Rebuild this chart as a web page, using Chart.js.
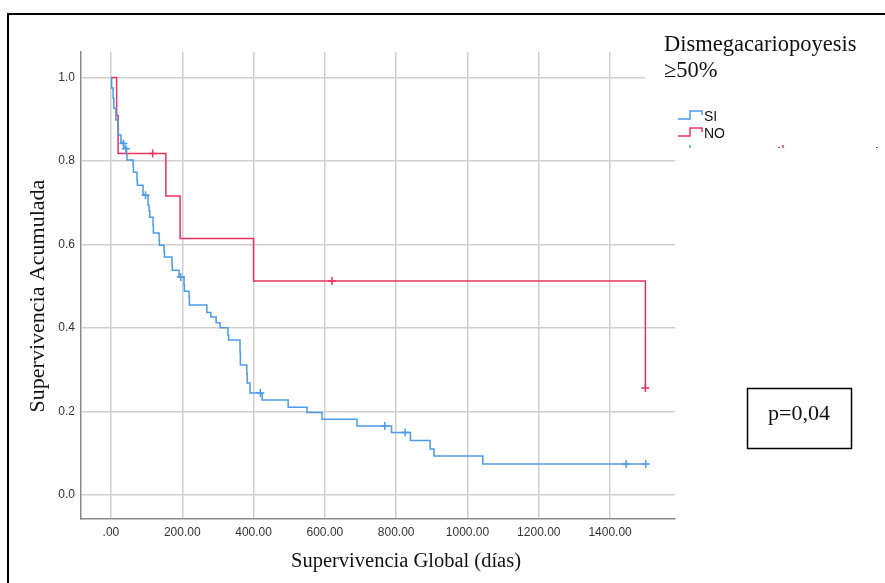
<!DOCTYPE html>
<html>
<head>
<meta charset="utf-8">
<script src="https://cdn.jsdelivr.net/npm/chart.js@4.4.1/dist/chart.umd.min.js"></script>
<style>
  html, body { margin: 0; padding: 0; background: #fff; }
  #km { display: block; }
</style>
</head>
<body>
<canvas id="km" width="885" height="583"></canvas>
<script>
// Kaplan-Meier steps: time (days) and survival after the event
const siTimes = [0, 2, 6, 8, 14, 20, 21, 28, 36, 44, 45, 62, 63, 73, 74, 90, 104, 107, 109, 118, 119, 135, 136, 149, 150, 171, 172, 191, 205, 206, 219, 220, 269, 280, 295, 306, 328, 330, 362, 363, 381, 382, 390, 424, 497, 550, 592, 690, 787, 840, 895, 906, 1043, 1500];
const siSurv  = [1.0, 0.975, 0.950, 0.926, 0.898, 0.879, 0.862, 0.845, 0.831, 0.816, 0.802, 0.787, 0.773, 0.754, 0.742, 0.718, 0.694, 0.680, 0.665, 0.646, 0.627, 0.610, 0.598, 0.584, 0.570, 0.553, 0.538, 0.522, 0.503, 0.488, 0.474, 0.455, 0.437, 0.426, 0.412, 0.400, 0.383, 0.371, 0.342, 0.311, 0.290, 0.268, 0.244, 0.227, 0.210, 0.197, 0.181, 0.165, 0.149, 0.130, 0.110, 0.093, 0.074, 0.074];
const siCensTimes = [35, 42, 97, 196, 419, 768, 825, 1445, 1500];
const siCensSurv  = [0.842, 0.829, 0.718, 0.522, 0.244, 0.165, 0.149, 0.074, 0.074];

const noTimes = [0, 16, 20, 154, 194, 400, 1499];
const noSurv  = [1.0, 0.909, 0.818, 0.716, 0.614, 0.512, 0.256];
const noCensTimes = [117, 620, 1499];
const noCensSurv  = [0.818, 0.512, 0.256];

const xTicks = [0, 200, 400, 600, 800, 1000, 1200, 1400];
const xTickLabels = ['.00', '200.00', '400.00', '600.00', '800.00', '1000.00', '1200.00', '1400.00'];
const yTicks = [0, 0.2, 0.4, 0.6, 0.8, 1.0];
const yTickLabels = ['0.0', '0.2', '0.4', '0.6', '0.8', '1.0'];

const BLUE = '#4b9be6';
const RED = '#e8335f';
const SERIF = '"Liberation Serif", "DejaVu Serif", serif';
const SANS = '"Liberation Sans", Arial, sans-serif';

const pts = (xs, ys) => xs.map((x, i) => ({ x: x, y: ys[i] }));

// frame, titles, legend and p-value box
const decorations = {
    id: 'decorations',
    afterDraw(chart) {
        const ctx = chart.ctx;
        ctx.save();

        // outer black frame
        ctx.strokeStyle = '#000';
        ctx.lineWidth = 2;
        ctx.beginPath();
        ctx.moveTo(8, 590);
        ctx.lineTo(8, 14);
        ctx.lineTo(890, 14);
        ctx.stroke();

        // legend panel covers the plot corner
        ctx.fillStyle = '#fff';
        ctx.fillRect(645, 16, 240, 133);

        ctx.fillStyle = '#111';
        ctx.font = '22.5px ' + SERIF;
        ctx.textAlign = 'left';
        ctx.textBaseline = 'alphabetic';
        ctx.fillText('Dismegacariopoyesis', 664, 51);
        ctx.fillText('\u226550%', 664, 77);

        // legend rows
        const rows = [['SI', BLUE, 116], ['NO', RED, 133]];
        ctx.lineWidth = 1.5;
        rows.forEach(r => {
            ctx.strokeStyle = r[1];
            ctx.beginPath();
            ctx.moveTo(678, r[2] + 3);
            ctx.lineTo(690, r[2] + 3);
            ctx.lineTo(690, r[2] - 5);
            ctx.lineTo(702, r[2] - 5);
            ctx.lineTo(702, r[2] - 1);
            ctx.stroke();
            ctx.fillStyle = '#111';
            ctx.font = '14px ' + SANS;
            ctx.textBaseline = 'middle';
            ctx.fillText(r[0], 704, r[2] + 1);
        });

        // third row, cut off by the panel edge
        ctx.save();
        ctx.beginPath();
        ctx.rect(640, 140, 245, 8);
        ctx.clip();
        ctx.font = '14px ' + SANS;
        ctx.textBaseline = 'middle';
        ctx.fillStyle = '#111';
        ctx.fillText('SI-censurado', 705, 154);
        ctx.fillText('NO-censurado', 795, 154);
        [[690, BLUE], [783, RED]].forEach(m => {
            ctx.strokeStyle = m[1];
            ctx.beginPath();
            ctx.moveTo(m[0], 145);
            ctx.lineTo(m[0], 155);
            ctx.moveTo(m[0] - 4, 151);
            ctx.lineTo(m[0] + 4, 151);
            ctx.stroke();
        });
        ctx.restore();

        // axis titles
        ctx.fillStyle = '#111';
        ctx.font = '20.5px ' + SERIF;
        ctx.textAlign = 'center';
        ctx.textBaseline = 'alphabetic';
        ctx.fillText('Supervivencia Global (d\u00edas)', 406, 567);
        ctx.save();
        ctx.font = '22px ' + SERIF;
        ctx.translate(44, 296);
        ctx.rotate(-Math.PI / 2);
        ctx.fillText('Supervivencia Acumulada', 0, 0);
        ctx.restore();

        // p-value box
        ctx.strokeStyle = '#000';
        ctx.lineWidth = 1.5;
        ctx.strokeRect(747.5, 388.5, 104, 60);
        ctx.font = '22px ' + SERIF;
        ctx.textBaseline = 'middle';
        ctx.fillText('p=0,04', 799, 414);

        ctx.restore();
    }
};

new Chart(document.getElementById('km'), {
    type: 'scatter',
    data: {
        datasets: [
            { data: pts(siTimes, siSurv), showLine: true, stepped: true, borderColor: BLUE, borderWidth: 1.5, pointRadius: 0 },
            { data: pts(noTimes, noSurv), showLine: true, stepped: true, borderColor: RED, borderWidth: 1.5, pointRadius: 0 },
            { data: pts(siCensTimes, siCensSurv), showLine: false, pointStyle: 'cross', pointRadius: 4, borderColor: BLUE, borderWidth: 1.5 },
            { data: pts(noCensTimes, noCensSurv), showLine: false, pointStyle: 'cross', pointRadius: 4, borderColor: RED, borderWidth: 1.5 }
        ]
    },
    options: {
        responsive: false,
        animation: false,
        devicePixelRatio: 1,
        layout: { padding: { left: 0, top: 52, right: 210, bottom: 0 } },
        plugins: { legend: { display: false }, tooltip: { enabled: false } },
        scales: {
            x: {
                type: 'linear',
                min: -84,
                max: 1582,
                afterBuildTicks: s => { s.ticks = xTicks.map(v => ({ value: v })); },
                afterFit: s => { s.height = 64; },
                grid: { color: '#cfcfcf', lineWidth: 1.5, drawTicks: false },
                border: { color: '#8a8a8a', width: 1.5 },
                ticks: {
                    padding: 6,
                    maxRotation: 0,
                    color: '#333',
                    font: { family: SANS, size: 12 },
                    callback: (v, i) => xTickLabels[i]
                }
            },
            y: {
                min: -0.058,
                max: 1.061,
                afterBuildTicks: s => { s.ticks = yTicks.map(v => ({ value: v })); },
                afterFit: s => { s.width = 81; },
                grid: { color: '#cfcfcf', lineWidth: 1.5, drawTicks: false },
                border: { color: '#8a8a8a', width: 1.5 },
                ticks: {
                    padding: 6,
                    color: '#333',
                    font: { family: SANS, size: 12 },
                    callback: (v, i) => yTickLabels[i]
                }
            }
        }
    },
    plugins: [decorations]
});
</script>
</body>
</html>
